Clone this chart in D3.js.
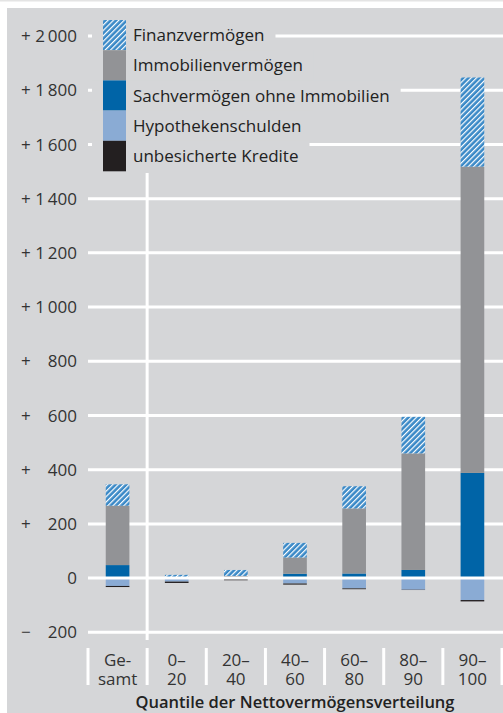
<!DOCTYPE html>
<html lang="de">
<head>
  <meta charset="UTF-8" />
  <title>Vermögenskomponenten nach Quantilen</title>
  <script src="https://d3js.org/d3.v7.min.js"></script>
  <style>
    html, body { margin: 0; padding: 0; background: #fff; }
    svg { display: block; font-family: "Open Sans", sans-serif; }
    .tick-label, .cat-label { font-size: 17px; fill: #333; }
    .axis-title { font-size: 16.5px; font-weight: 600; fill: #222; }
    .legend-label { font-size: 17px; fill: #222; }
  </style>
</head>
<body>
  <svg id="chart" width="503" height="713"></svg>

  <script>
    const width = 503, height = 713;

    // categories
    const categories = ["Gesamt", "0–20", "20–40", "40–60", "60–80", "80–90", "90–100"];
    const catLine1 = ["Ge-", "0–", "20–", "40–", "60–", "80–", "90–"];
    const catLine2 = ["samt", "20", "40", "60", "80", "90", "100"];

    // values (Tsd. Euro)
    const finanz = [79, 10, 22, 54, 82, 135, 329];
    const immo   = [219, 1, 6, 60, 240, 430, 1130];
    const sach   = [48, 1, 2, 16, 17, 30, 388];
    const hypo   = [-29, -13, -4, -20, -38, -43, -81];
    const kredit = [-4, -5, -4, -4, -3, -1, -5];

    const yTicks = [-200, 0, 200, 400, 600, 800, 1000, 1200, 1400, 1600, 1800, 2000];

    const keys = ["sach", "immo", "finanz", "hypo", "kredit"];
    const legendKeys = ["finanz", "immo", "sach", "hypo", "kredit"];
    const legendNames = {
      finanz: "Finanzvermögen",
      immo: "Immobilienvermögen",
      sach: "Sachvermögen ohne Immobilien",
      hypo: "Hypothekenschulden",
      kredit: "unbesicherte Kredite"
    };
    const colors = {
      finanz: "url(#hatch)",
      immo: "#929396",
      sach: "#0064a7",
      hypo: "#8aabd4",
      kredit: "#231f20"
    };

    const table = categories.map((c, i) => ({
      cat: c, finanz: finanz[i], immo: immo[i], sach: sach[i], hypo: hypo[i], kredit: kredit[i]
    }));

    const svg = d3.select("#chart");

    // hatch pattern for Finanzvermögen
    const pat = svg.append("defs").append("pattern")
      .attr("id", "hatch")
      .attr("patternUnits", "userSpaceOnUse")
      .attr("width", 3.8).attr("height", 3.8)
      .attr("patternTransform", "rotate(45)");
    pat.append("rect").attr("width", 3.8).attr("height", 3.8).attr("fill", "#3a89c7");
    pat.append("line").attr("x1", 0.6).attr("y1", 0).attr("x2", 0.6).attr("y2", 3.8)
      .attr("stroke", "#fff").attr("stroke-width", 1.2);

    // background
    svg.append("rect").attr("width", width).attr("height", height).attr("fill", "#fff");
    svg.append("rect").attr("width", width).attr("height", 1.5).attr("fill", "#e4e4e4");
    svg.append("rect").attr("x", 7).attr("y", 8).attr("width", width - 7).attr("height", height - 8)
      .attr("fill", "#d5d6d8");

    const x = d3.scaleBand().domain(categories).range([88, 502])
      .paddingInner(0.6).paddingOuter(0.3);
    const y = d3.scaleLinear().domain([-200, 2000]).range([632.3, 36]);
    const step = x.step();

    const fmt = d3.formatLocale({ decimal: ",", thousands: "\u2009", grouping: [3], currency: ["", "€"] }).format(",d");

    // gridlines
    svg.append("g").selectAll("line")
      .data(yTicks.filter(d => d !== 0))
      .join("line")
      .attr("x1", 88).attr("x2", width)
      .attr("y1", d => y(d)).attr("y2", d => y(d))
      .attr("stroke", "#fff").attr("stroke-width", 3);

    // tick labels: sign left, number right-aligned
    const tl = svg.append("g");
    tl.selectAll("text.sign").data(yTicks.filter(d => d !== 0)).join("text")
      .attr("class", "tick-label sign")
      .attr("x", 21).attr("y", d => y(d)).attr("dy", "0.36em")
      .text(d => d > 0 ? "+" : "−");
    tl.selectAll("text.num").data(yTicks).join("text")
      .attr("class", "tick-label num")
      .attr("x", 77).attr("y", d => y(d)).attr("dy", "0.36em")
      .attr("text-anchor", "end")
      .text(d => fmt(Math.abs(d)));

    // vertical divider between Gesamt and quantiles
    svg.append("line")
      .attr("x1", 88 + step).attr("x2", 88 + step)
      .attr("y1", 173).attr("y2", 640)
      .attr("stroke", "#fff").attr("stroke-width", 3);

    // stacked bars
    const series = d3.stack().keys(keys).offset(d3.stackOffsetDiverging)(table);
    svg.append("g").selectAll("g")
      .data(series)
      .join("g")
      .attr("fill", d => colors[d.key])
      .selectAll("rect")
      .data(d => d)
      .join("rect")
      .attr("x", d => x(d.data.cat))
      .attr("width", x.bandwidth())
      .attr("y", d => y(Math.max(d[0], d[1])))
      .attr("height", d => Math.abs(y(d[0]) - y(d[1])));

    // zero line on top of bars
    svg.append("line")
      .attr("x1", 88).attr("x2", width)
      .attr("y1", y(0)).attr("y2", y(0))
      .attr("stroke", "#fff").attr("stroke-width", 3);

    // legend
    const lg = svg.append("g");
    const rowH = 30.2, lgTop = 20, swX = 103, swW = 23;
    const rows = lg.selectAll("g").data(legendKeys).join("g")
      .attr("transform", (d, i) => `translate(0,${lgTop + i * rowH})`);
    const bgs = rows.append("rect").attr("x", 92).attr("y", 0).attr("height", rowH + 0.5)
      .attr("fill", "#d5d6d8");
    rows.append("rect").attr("x", swX).attr("width", swW).attr("height", rowH + 0.3)
      .attr("fill", d => colors[d]);
    const labels = rows.append("text").attr("class", "legend-label")
      .attr("x", 133).attr("y", rowH / 2).attr("dy", "0.36em")
      .text(d => legendNames[d]);
    labels.each(function(d, i) {
      const w = this.getComputedTextLength();
      d3.select(bgs.nodes()[i]).attr("width", 133 + w + 11 - 92);
    });

    // category labels (two lines in one text) and separators
    const cg = svg.append("g");
    cg.selectAll("line").data(d3.range(categories.length + 1)).join("line")
      .attr("x1", i => 88 + i * step).attr("x2", i => 88 + i * step)
      .attr("y1", 648).attr("y2", 685)
      .attr("stroke", "#fff").attr("stroke-width", 3);
    const ct = cg.selectAll("text").data(categories).join("text")
      .attr("class", "cat-label")
      .attr("text-anchor", "middle");
    ct.append("tspan")
      .attr("x", d => x(d) + x.bandwidth() / 2).attr("y", 666)
      .text((d, i) => catLine1[i]);
    ct.append("tspan")
      .attr("x", d => x(d) + x.bandwidth() / 2).attr("y", 685)
      .text((d, i) => catLine2[i]);

    svg.append("text").attr("class", "axis-title")
      .attr("x", 295).attr("y", 708)
      .attr("text-anchor", "middle")
      .text("Quantile der Nettovermögensverteilung");
  </script>
</body>
</html>
